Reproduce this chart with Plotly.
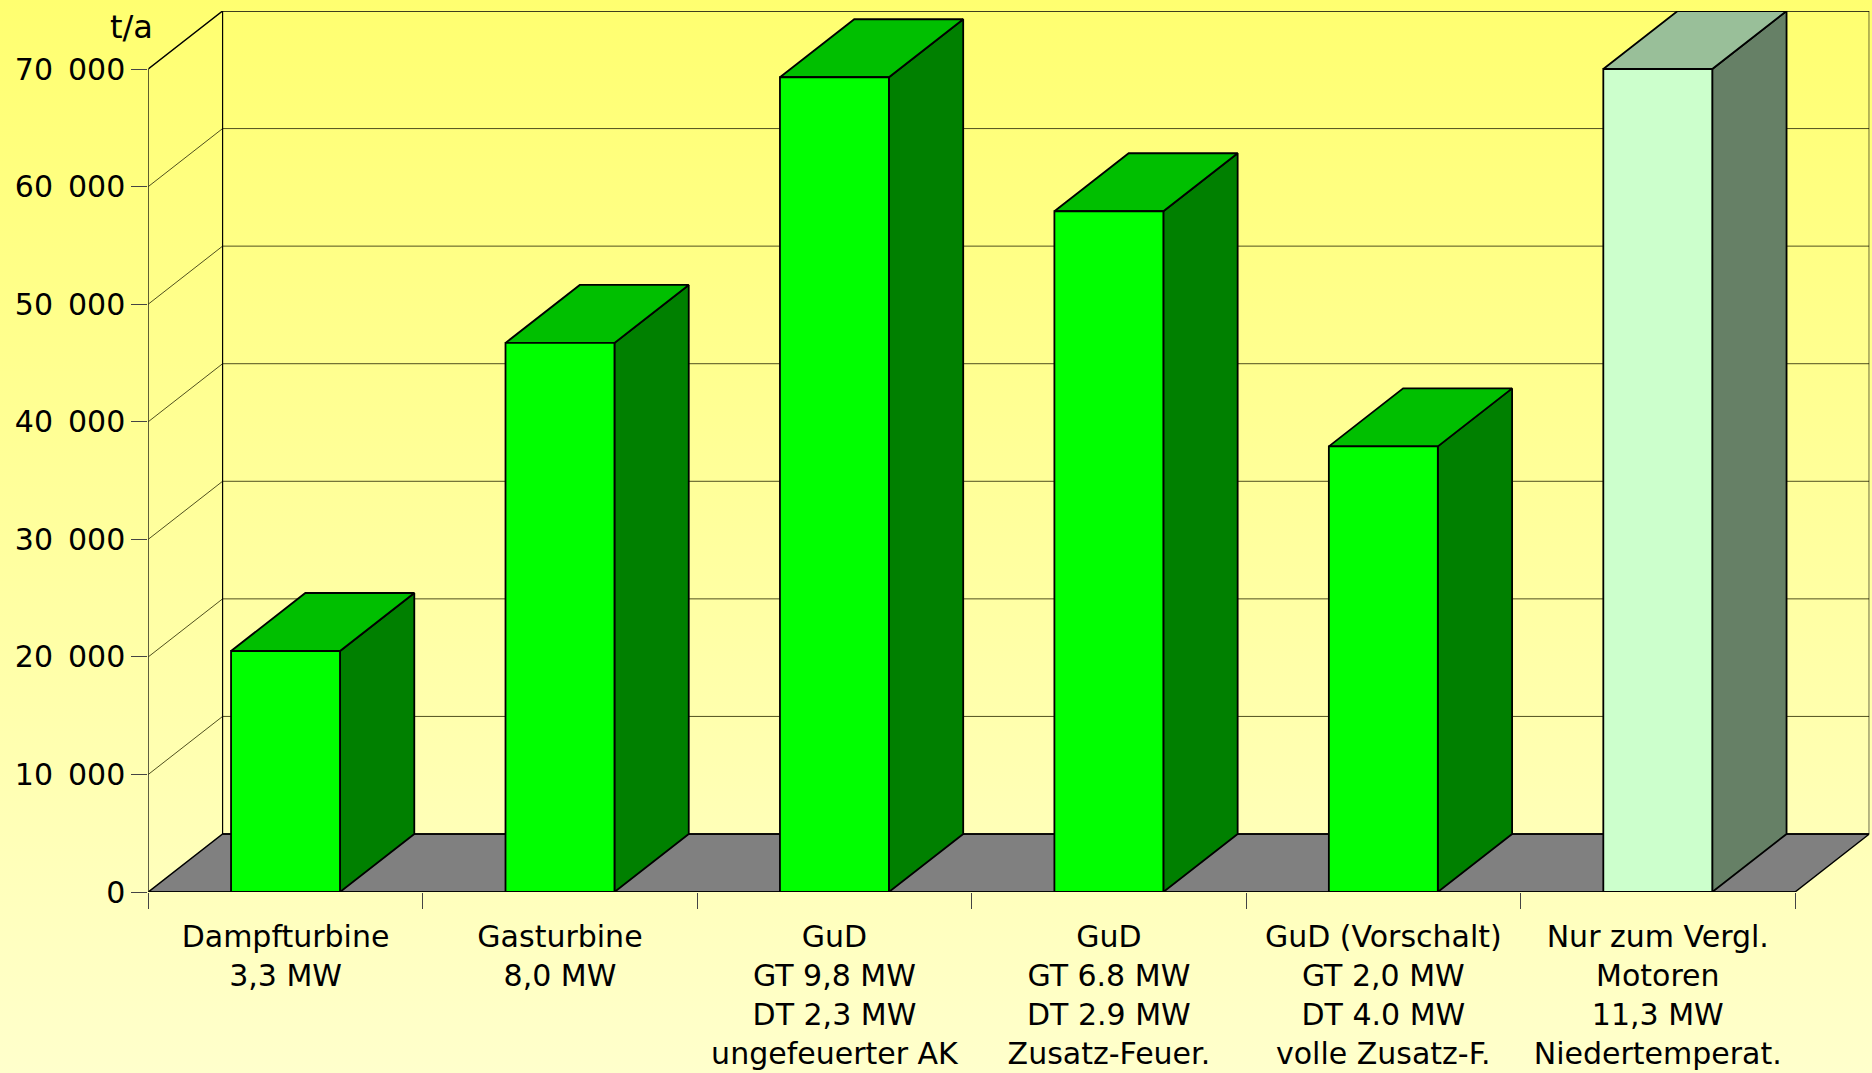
import plotly.graph_objects as go

categories = ["Dampfturbine<br>3,3 MW", "Gasturbine<br>8,0 MW",
              "GuD<br>GT 9,8 MW<br>DT 2,3 MW<br>ungefeuerter AK",
              "GuD<br>GT 6.8 MW<br>DT 2.9 MW<br>Zusatz-Feuer.",
              "GuD (Vorschalt)<br>GT 2,0 MW<br>DT 4.0 MW<br>volle Zusatz-F.",
              "Nur zum Vergl.<br>Motoren<br>11,3 MW<br>Niedertemperat."]
values = [20500, 46700, 69300, 57900, 37900, 70000]
tick_values = [0, 10000, 20000, 30000, 40000, 50000, 60000, 70000]
tick_labels = ["0", "10\u2002000", "20\u2002000", "30\u2002000", "40\u2002000", "50\u2002000", "60\u2002000", "70\u2002000"]
front_colors = ["#00FF00"] * 5 + ["#CCFFCC"]
top_colors = ["#00BF00"] * 5 + ["#99BF99"]
side_colors = ["#008000"] * 5 + ["#668066"]

W, H = 1872, 1073
L, R, T, B = 148.3, 1869.3, 11, 892
DX = 74.3 / 274.5
DY = 58 / 117.57 * 10000
BAR = 0.397
YMAX = 70000
GRID = "#50501f"
FONT = dict(family="DejaVu Sans, sans-serif", size=30, color="black")

fig = go.Figure()

# page background, on its own full-page axes
fig.add_trace(go.Scatter(x=[0, 1, 1, 0, 0], y=[0, 0, 1, 1, 0], mode="lines", line=dict(width=0),
                         fill="toself", xaxis="x", yaxis="y", hoverinfo="skip", showlegend=False,
                         fillgradient=dict(type="vertical", colorscale=[[0, "#FFFFCC"], [1, "#FFFF70"]])))

def poly(xs, ys, fill=None, lc="black", lw=1.8):
    fig.add_trace(go.Scatter(x=xs, y=ys, mode="lines", line=dict(color=lc, width=lw),
                             fill="toself" if fill else None, fillcolor=fill, xaxis="x2", yaxis="y2",
                             cliponaxis=False, hoverinfo="skip", showlegend=False))

n = len(categories)
# floor
poly([0, DX, n + DX, n, 0], [0, DY, DY, 0, 0], "#808080", "black", 1.5)
# walls and grid
for v in tick_values[1:]:
    poly([0, DX, n + DX], [v, v + DY, v + DY], None, "black" if v == YMAX else GRID, 1.5 if v == YMAX else 1)
poly([0, 0], [0, YMAX], None, "black", 1.2)
poly([DX, DX], [DY, YMAX + DY], None, "black", 1.2)
poly([n + DX, n + DX], [DY, YMAX + DY], None, "black", 1.2)
poly([DX, n + DX], [DY, DY], None, "black", 1.5)
poly([0, n], [0, 0], None, "black", 1.5)

# bars
for i, v in enumerate(values):
    a = i + 0.5 - BAR / 2
    b = i + 0.5 + BAR / 2
    poly([b, b + DX, b + DX, b, b], [0, DY, v + DY, v, 0], side_colors[i])
    poly([a, a + DX, b + DX, b, a], [v, v + DY, v + DY, v, v], top_colors[i])
    poly([a, b, b, a, a], [0, 0, v, v, 0], front_colors[i])

fig.add_annotation(text="t/a", xref="x2", yref="y2", x=0, y=YMAX + DY, xanchor="right", yanchor="top",
                   xshift=7, yshift=5, showarrow=False, font=dict(family="DejaVu Sans, sans-serif", size=32, color="black"))

fig.update_layout(
    width=W, height=H, margin=dict(l=0, r=0, t=0, b=0), showlegend=False,
    paper_bgcolor="#FFFFCC", plot_bgcolor="rgba(0,0,0,0)",
    xaxis=dict(domain=[0, 1], range=[0, 1], visible=False, fixedrange=True, automargin=False),
    yaxis=dict(domain=[0, 1], range=[0, 1], visible=False, fixedrange=True, automargin=False),
    xaxis2=dict(domain=[L / W, R / W], range=[0, n + DX], anchor="y2", showgrid=False, zeroline=False,
                automargin=False, ticklabelstandoff=2,
                showline=False, tickmode="array", tickvals=[i + 0.5 for i in range(n)], ticktext=categories,
                ticks="outside", ticklen=16, tickcolor="rgba(0,0,0,0)", tickfont=FONT, tickangle=0,
                minor=dict(tickmode="array", tickvals=list(range(n + 1)), ticks="outside", ticklen=16,
                           tickcolor="#444444", tickwidth=1, showgrid=False)),
    yaxis2=dict(domain=[1 - B / H, 1 - T / H], range=[0, YMAX + DY], anchor="x2", showgrid=False, zeroline=False,
                automargin=False,
                showline=False, tickmode="array", tickvals=tick_values, ticktext=tick_labels,
                ticks="outside", ticklen=16, tickcolor="#444444", tickwidth=1, tickfont=FONT),
)
fig.write_html("out.html", config=dict(displayModeBar=False),
               post_script="document.body.style.margin='0';document.documentElement.style.overflow='hidden';")
